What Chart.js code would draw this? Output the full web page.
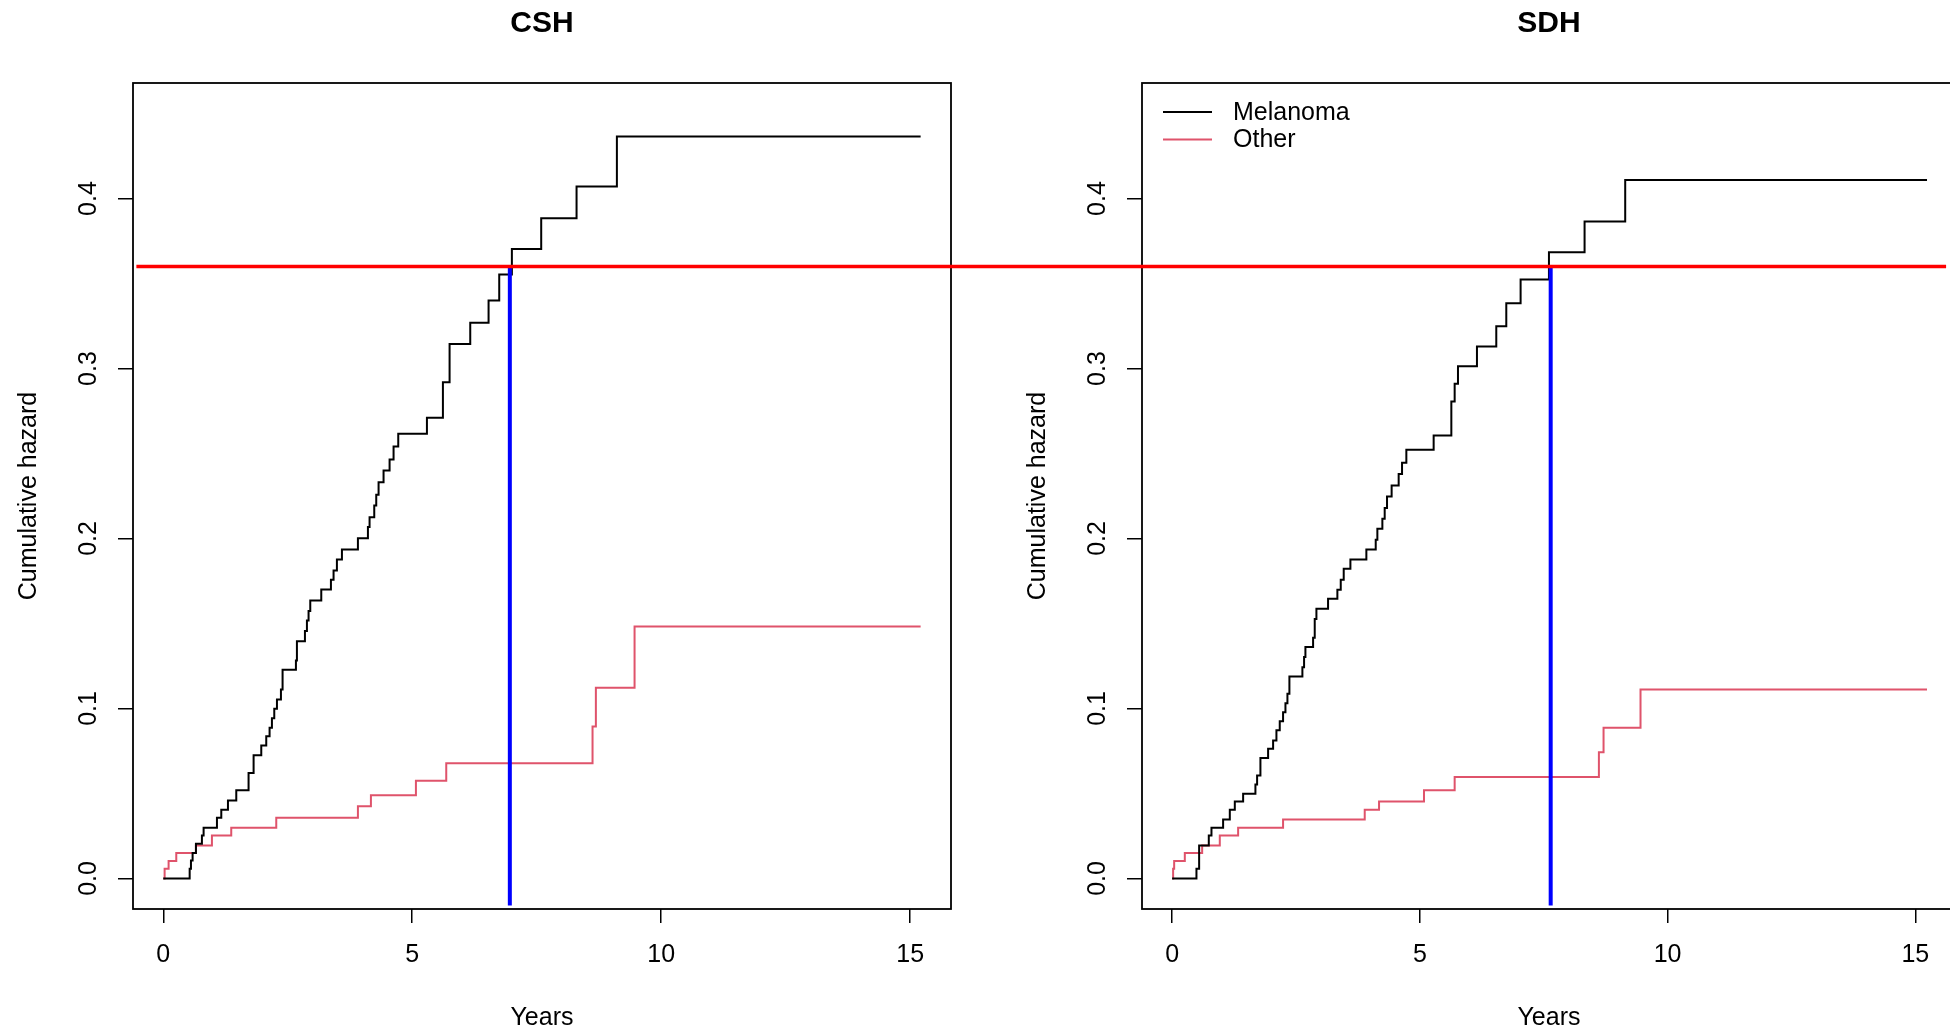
<!DOCTYPE html>
<html>
<head>
<meta charset="utf-8">
<script src="https://cdn.jsdelivr.net/npm/chart.js@4"></script>
<style>
  html, body { margin: 0; padding: 0; background: #fff; overflow: hidden; width: 1950px; height: 1033px; }
  canvas { position: absolute; top: 0; }
  #cshChart { left: 0; }
  #sdhChart { left: 1009px; }
</style>
</head>
<body>
<canvas id="cshChart" width="1009" height="1033"></canvas>
<canvas id="sdhChart" width="1009" height="1033"></canvas>
<script>
// cumulative hazard steps (time of jump, value after jump)
const seriesNames = ['Melanoma', 'Other'];

const cshMelTimes = [0, 0.53, 0.556, 0.589, 0.656, 0.776, 0.81, 1.078, 1.165, 1.299, 1.466, 1.713, 1.814, 1.968, 2.068, 2.135, 2.182, 2.229, 2.283, 2.363, 2.396, 2.664, 2.684, 2.845, 2.885, 2.918, 2.952, 3.173, 3.367, 3.42, 3.487, 3.588, 3.909, 4.11, 4.143, 4.237, 4.277, 4.324, 4.424, 4.545, 4.625, 4.719, 5.295, 5.616, 5.75, 6.165, 6.533, 6.747, 7.001, 7.59, 8.3, 9.11, 15.21];
const cshMelValues = [0, 0.0057, 0.0106, 0.0149, 0.0204, 0.0253, 0.0298, 0.0357, 0.0404, 0.0459, 0.0518, 0.062, 0.0724, 0.0782, 0.0837, 0.0886, 0.0943, 0.0998, 0.1053, 0.1112, 0.1227, 0.1282, 0.1396, 0.1455, 0.1518, 0.1573, 0.1635, 0.17, 0.1757, 0.1812, 0.1876, 0.1935, 0.2002, 0.2067, 0.2125, 0.2194, 0.2257, 0.2331, 0.24, 0.2465, 0.2541, 0.2616, 0.271, 0.292, 0.3145, 0.3269, 0.34, 0.3553, 0.3704, 0.3884, 0.4071, 0.4365, 0.4365];
const cshOthTimes = [0, 0.027, 0.107, 0.261, 0.656, 0.977, 1.365, 2.269, 3.909, 4.17, 5.074, 5.683, 8.621, 8.688, 9.465, 15.21];
const cshOthValues = [0, 0.0057, 0.0102, 0.0149, 0.0194, 0.0253, 0.0298, 0.0357, 0.0424, 0.049, 0.0575, 0.0678, 0.0894, 0.1122, 0.1482, 0.1482];

const sdhMelTimes = [0, 0.491, 0.545, 0.74, 0.794, 1.029, 1.164, 1.265, 1.433, 1.681, 1.715, 1.782, 1.937, 2.038, 2.105, 2.172, 2.239, 2.287, 2.327, 2.367, 2.629, 2.663, 2.69, 2.845, 2.878, 2.912, 3.147, 3.335, 3.403, 3.463, 3.598, 3.92, 4.109, 4.142, 4.243, 4.29, 4.337, 4.43, 4.572, 4.64, 4.727, 5.278, 5.635, 5.702, 5.769, 6.152, 6.542, 6.744, 7.033, 7.605, 8.324, 9.144, 15.235];
const sdhMelValues = [0, 0.0057, 0.0194, 0.0253, 0.0298, 0.0347, 0.0404, 0.0453, 0.0498, 0.0553, 0.0606, 0.0708, 0.0763, 0.0812, 0.0871, 0.0925, 0.0978, 0.1031, 0.1086, 0.1188, 0.1243, 0.1302, 0.1361, 0.1416, 0.1527, 0.1586, 0.1645, 0.1698, 0.1757, 0.1822, 0.1876, 0.1935, 0.1992, 0.2057, 0.2116, 0.218, 0.2247, 0.2312, 0.238, 0.2445, 0.2522, 0.2606, 0.2806, 0.291, 0.3014, 0.3129, 0.3249, 0.3384, 0.3524, 0.3684, 0.3865, 0.411, 0.411];
const sdhOthTimes = [0, 0.02, 0.041, 0.256, 0.606, 0.962, 1.332, 2.239, 3.887, 4.176, 5.083, 5.702, 8.613, 8.707, 9.453, 15.235];
const sdhOthValues = [0, 0.0057, 0.0102, 0.0149, 0.0194, 0.0253, 0.0298, 0.0347, 0.0404, 0.0453, 0.0518, 0.0596, 0.0743, 0.0886, 0.1112, 0.1112];

// reference lines
const hazardLevel = 0.36;
const cshCutTime = 6.96;
const sdhCutTime = 7.64;

const xTicks = [0, 5, 10, 15];
const yTicks = [0, 0.1, 0.2, 0.3, 0.4];

const FONT = "'Liberation Sans', Arial, sans-serif";
const PINK = '#DF536B';

const toPoints = (ts, vs) => ts.map((t, i) => ({ x: t, y: vs[i] }));

// box round the plot region, like R's box()
const boxPlugin = {
  id: 'rBox',
  beforeDatasetsDraw(chart) {
    const { ctx, chartArea: a } = chart;
    ctx.save();
    ctx.strokeStyle = '#000';
    ctx.lineWidth = 1.8;
    ctx.strokeRect(a.left, a.top, a.right - a.left, a.bottom - a.top);
    ctx.restore();
  }
};

const legendPlugin = {
  id: 'rLegend',
  afterDatasetsDraw(chart, args, opts) {
    if (!opts.show) return;
    const { ctx, chartArea: a } = chart;
    ctx.save();
    ctx.font = '25px ' + FONT;
    ctx.textBaseline = 'middle';
    seriesNames.forEach((name, i) => {
      const ds = chart.data.datasets[i];
      const y = a.top + 29 + i * 27.5;
      ctx.strokeStyle = ds.borderColor;
      ctx.lineWidth = ds.borderWidth;
      ctx.beginPath();
      ctx.moveTo(a.left + 21, y);
      ctx.lineTo(a.left + 70, y);
      ctx.stroke();
      ctx.fillStyle = '#000';
      ctx.fillText(name, a.left + 91, y + 1);
    });
    ctx.restore();
  }
};

function makePanel(id, title, melT, melV, othT, othV, cut, redFrom, redTo, rightPad, showLegend) {
  return new Chart(document.getElementById(id), {
    type: 'line',
    data: {
      datasets: [
        { label: seriesNames[0], data: toPoints(melT, melV), stepped: true, borderColor: '#000', borderWidth: 2, pointRadius: 0, order: 1 },
        { label: seriesNames[1], data: toPoints(othT, othV), stepped: true, borderColor: PINK, borderWidth: 2, pointRadius: 0, order: 1 },
        { label: 'level', data: [{ x: redFrom, y: hazardLevel }, { x: redTo, y: hazardLevel }], borderColor: '#FF0000', borderWidth: 3.5, pointRadius: 0, clip: false, order: 0 },
        { label: 'cut', data: [{ x: cut, y: -0.016 }, { x: cut, y: hazardLevel }], borderColor: '#0000FF', borderWidth: 4, pointRadius: 0, clip: false, order: 0 }
      ]
    },
    options: {
      responsive: false,
      animation: false,
      devicePixelRatio: 1,
      layout: { padding: { left: 0, top: 0, right: rightPad, bottom: 0 } },
      plugins: {
        legend: { display: false },
        tooltip: { enabled: false },
        rLegend: { show: showLegend },
        title: {
          display: true, text: title, fullSize: false, color: '#000',
          font: { family: FONT, size: 30, weight: 'bold', lineHeight: 1.2 },
          padding: { top: 6, bottom: 41 }
        }
      },
      scales: {
        x: {
          type: 'linear', min: -0.608, max: 15.82,
          afterBuildTicks: s => { s.ticks = xTicks.map(v => ({ value: v })); },
          afterFit: s => { s.height = 124; },
          border: { display: false },
          grid: { drawOnChartArea: false, drawTicks: true, tickLength: 14, color: '#000', tickColor: '#000', lineWidth: 1.5 },
          ticks: { color: '#000', font: { family: FONT, size: 25 }, padding: 17, autoSkip: false, minRotation: 0, maxRotation: 0, callback: v => String(v) },
          title: { display: true, text: 'Years', color: '#000', font: { family: FONT, size: 25, lineHeight: 1 }, padding: { top: 0, bottom: 2 } }
        },
        y: {
          type: 'linear', min: -0.018, max: 0.468,
          afterBuildTicks: s => { s.ticks = yTicks.map(v => ({ value: v })); },
          afterFit: s => { s.width = 133; },
          border: { display: false },
          grid: { drawOnChartArea: false, drawTicks: true, tickLength: 15, color: '#000', tickColor: '#000', lineWidth: 1.5 },
          ticks: { color: '#000', font: { family: FONT, size: 25 }, padding: 12, autoSkip: false, minRotation: 90, maxRotation: 90, crossAlign: 'center', callback: v => v.toFixed(1) },
          title: { display: true, text: 'Cumulative hazard', color: '#000', font: { family: FONT, size: 25, lineHeight: 1.2 }, padding: { top: 14, bottom: 0 } }
        }
      }
    },
    plugins: [boxPlugin, legendPlugin]
  });
}

makePanel('cshChart', 'CSH', cshMelTimes, cshMelValues, cshOthTimes, cshOthValues, cshCutTime, -0.54, 17.5, 58, false);
makePanel('sdhChart', 'SDH', sdhMelTimes, sdhMelValues, sdhOthTimes, sdhOthValues, sdhCutTime, -3.4, 15.62, 62, true);
</script>
</body>
</html>
